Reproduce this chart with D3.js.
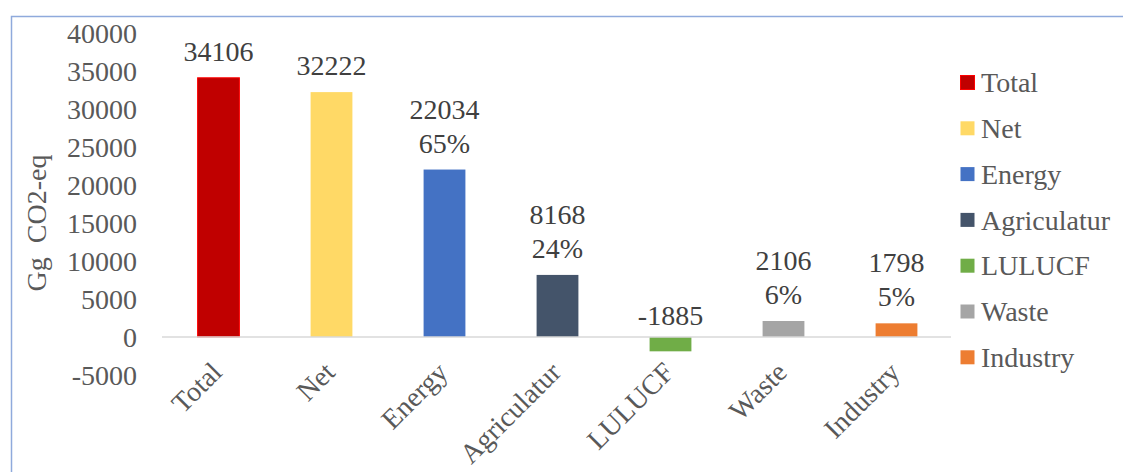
<!DOCTYPE html>
<html>
<head>
<meta charset="utf-8">
<script src="https://cdn.jsdelivr.net/npm/d3@7"></script>
<style>
  body { margin: 0; background: #fff; }
  svg, svg text { font-family: "Liberation Serif", serif !important; }
</style>
</head>
<body>
<script>
// chart data
var categories = ["Total", "Net", "Energy", "Agriculatur", "LULUCF", "Waste", "Industry"];
var values = [34106, 32222, 22034, 8168, -1885, 2106, 1798];
var shares = ["", "", "65%", "24%", "", "6%", "5%"];
var colors = ["#c00000", "#ffd966", "#4472c4", "#44546a", "#70ad47", "#a5a5a5", "#ed7d31"];
var yTicks = [-5000, 0, 5000, 10000, 15000, 20000, 25000, 30000, 35000, 40000];

var w = 1123;
var h = 472;
var serif = "'Liberation Serif', serif";
var fs = "28px";

var svg = d3.select("body")
    .append("svg")
    .attr("width", w)
    .attr("height", h)
    .style("font-family", serif);

// outer frame (bottom and right run off the picture)
svg.append("path")
    .attr("d", "M11.5," + h + " V16.5 H" + w)
    .attr("fill", "none")
    .attr("stroke", "#8faadc")
    .attr("stroke-width", 1.5);

var xScale = d3.scaleBand()
    .domain(categories)
    .range([162, 953])
    .paddingInner(0.63)
    .paddingOuter(0.315);

var yScale = d3.scaleLinear()
    .domain([-5000, 40000])
    .range([375, 33]);

// y tick labels (plain hyphen for the minus, like the original)
svg.append("g")
    .attr("transform", "translate(137,0)")
    .call(d3.axisLeft(yScale).tickValues(yTicks).tickSize(0).tickPadding(0).tickFormat(d => String(d)))
    .call(g => g.select(".domain").remove())
    .attr("font-family", null)
    .selectAll("text")
    .style("font-family", serif)
    .attr("font-size", fs)
    .attr("fill", "#595959")
    .attr("dy", "0.33em");

// y axis title
svg.append("text")
    .attr("transform", "translate(46,223) rotate(-90)")
    .attr("text-anchor", "middle")
    .attr("font-size", fs)
    .attr("fill", "#595959")
    .style("white-space", "pre")
    .text("Gg  CO2-eq");

// bars
svg.selectAll("rect.bar")
    .data(values)
    .enter()
    .append("rect")
    .attr("class", "bar")
    .attr("x", (d, i) => xScale(categories[i]))
    .attr("y", d => yScale(Math.max(0, d)))
    .attr("width", xScale.bandwidth())
    .attr("height", d => Math.abs(yScale(d) - yScale(0)))
    .attr("fill", (d, i) => colors[i])
    .attr("stroke", (d, i) => i === 0 ? "#ff0000" : "none")
    .attr("stroke-width", 1);

// zero line
svg.append("line")
    .attr("x1", 162)
    .attr("x2", 951)
    .attr("y1", yScale(0))
    .attr("y2", yScale(0))
    .attr("stroke", "#d9d9d9")
    .attr("stroke-width", 1.5);

// data labels
var labels = svg.selectAll("text.lbl")
    .data(values)
    .enter()
    .append("text")
    .attr("class", "lbl")
    .attr("text-anchor", "middle")
    .attr("font-size", fs)
    .attr("fill", "#404040")
    .attr("x", (d, i) => xScale(categories[i]) + xScale.bandwidth() / 2)
    .attr("y", (d, i) => yScale(Math.max(0, d)) - (d < 0 ? 12 : 17) - (shares[i] ? 34 : 0));

labels.append("tspan")
    .text(d => d);

labels.append("tspan")
    .attr("x", (d, i) => xScale(categories[i]) + xScale.bandwidth() / 2)
    .attr("dy", 34)
    .text((d, i) => shares[i]);

// category labels
svg.selectAll("text.cat")
    .data(categories)
    .enter()
    .append("text")
    .attr("class", "cat")
    .attr("text-anchor", "end")
    .attr("font-size", fs)
    .attr("fill", "#595959")
    .attr("transform", d => "translate(" + (xScale(d) + xScale.bandwidth() / 2 + 5) + ",374) rotate(-45)")
    .text(d => d);

// legend
var legend = svg.selectAll("g.leg")
    .data(categories)
    .enter()
    .append("g")
    .attr("class", "leg")
    .attr("transform", (d, i) => "translate(960," + (83 + i * 45.8) + ")");

legend.append("rect")
    .attr("x", 0.5)
    .attr("y", -7.5)
    .attr("width", 14)
    .attr("height", 14)
    .attr("fill", (d, i) => colors[i])
    .attr("stroke", (d, i) => i === 0 ? "#ff0000" : "none");

legend.append("text")
    .attr("x", 21)
    .attr("dy", "0.33em")
    .attr("font-size", fs)
    .attr("fill", "#595959")
    .text(d => d);
</script>
</body>
</html>
